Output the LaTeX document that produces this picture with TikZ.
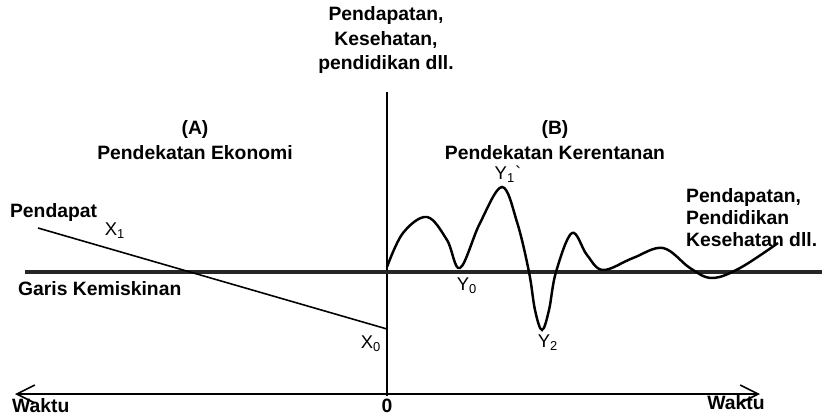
\documentclass[tikz,border=0pt]{standalone}
\usepackage{fontspec}
\setmainfont{Liberation Sans}
\usetikzlibrary{arrows.meta}

\begin{document}
\begin{tikzpicture}[x=0.02cm, y=-0.02cm,
  lbl/.style={font=\fontsize{11}{14}\selectfont\bfseries, align=center, inner sep=1pt},
  sym/.style={font=\fontsize{10.5}{12}\selectfont, inner sep=1pt},
  axis/.style={line width=0.9pt},
  barb/.style={Straight Barb[length=0.36cm, width=0.36cm]}
]
\useasboundingbox (0,0) rectangle (833,417);

% ---- Sumbu ----
\coordinate (tl) at (15,394);
\coordinate (tr) at (760,394);
\coordinate (atas) at (387,92);
\coordinate (nol) at (387,396);
\draw[axis, {Straight Barb[length=0.36cm, width=0.36cm]}-{Straight Barb[length=0.36cm, width=0.36cm]}] (tl) -- (tr);
\draw[axis] (atas) -- (nol);

% ---- Garis kemiskinan ----
\coordinate (gk0) at (25,272);
\coordinate (gk1) at (822,272);
\draw[line width=2.8pt, black!85] (gk0) -- (gk1);

% ---- (A) Pendekatan Ekonomi ----
\coordinate (x1) at (38,228);
\coordinate (x0) at (387,329);
\draw[line width=0.9pt] (x1) -- (x0);

% ---- (B) Pendekatan Kerentanan ----
\draw[line width=1.4pt] plot[smooth, tension=0.6] coordinates {
  (387,267) (403,233) (427,217) (447,240) (460,268) (480,223) (502,187)
  (517,222) (529,272) (535,310) (542,330) (549,310) (556,272) (572,233)
  (587,255) (603,270) (633,258) (663,248) (690,268) (712,278) (740,268)
  (778,243)};

% ---- Label ----
\node[lbl] (judul) at (386,40) {Pendapatan,\\Kesehatan,\\pendidikan dll.};
\node[lbl] (pendA) at (195,140) {(A)\\Pendekatan Ekonomi};
\node[lbl] (pendB) at (555,140) {(B)\\Pendekatan Kerentanan};
\node[lbl, align=left, anchor=west, font=\fontsize{11}{12.5}\selectfont\bfseries] (kanan) at (684,218) {Pendapatan,\\Pendidikan\\Kesehatan dll.};
\node[lbl, anchor=west] (pendapat) at (8,212) {Pendapat};
\node[lbl, anchor=west] (garis) at (16,289) {Garis Kemiskinan};
\node[lbl] (angka0) at (387,406) {0};
\node[lbl, anchor=west] (waktuA) at (10,406) {Waktu};
\node[lbl] (waktuB) at (736,403) {Waktu};

\node[sym] (lX1) at (115,231) {X\textsubscript{1}};
\node[sym] (lX0) at (371,344) {X\textsubscript{0}};
\node[sym] (lY0) at (467,286) {Y\textsubscript{0}};
\node[sym] (lY1) at (508,174) {Y\textsubscript{1}\textasciigrave};
\node[sym] (lY2) at (548,343) {Y\textsubscript{2}};
\end{tikzpicture}
\end{document}
